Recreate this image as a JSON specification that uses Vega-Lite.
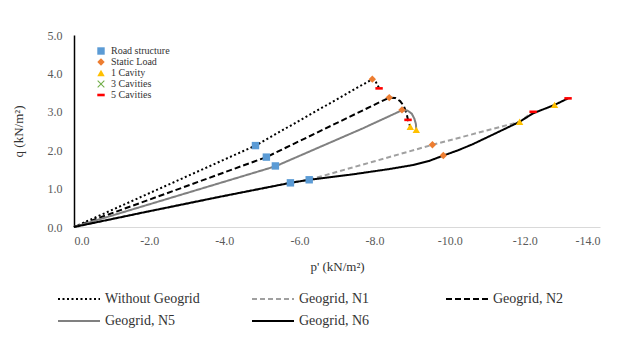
{
  "$schema": "https://vega.github.io/schema/vega-lite/v6.json",
  "width": 526,
  "height": 192,
  "autosize": {"type": "none"},
  "padding": {"left": 74, "top": 35, "right": 20, "bottom": 110},
  "background": "white",
  "config": {"view": {"stroke": null}, "font": "Times New Roman, Liberation Serif, DejaVu Serif, serif"},
  "datasets": {
    "lines": [
      {"series": "Without Geogrid", "i": 0, "p": 0, "q": 0},
      {"series": "Without Geogrid", "i": 1, "p": -4.83, "q": 2.12},
      {"series": "Without Geogrid", "i": 2, "p": -7.94, "q": 3.85},
      {"series": "Without Geogrid", "i": 3, "p": -8.03, "q": 3.78},
      {"series": "Without Geogrid", "i": 4, "p": -8.08, "q": 3.7},
      {"series": "Without Geogrid", "i": 5, "p": -8.12, "q": 3.61},
      {"series": "Geogrid, N1", "i": 0, "p": 0, "q": 0},
      {"series": "Geogrid, N1", "i": 1, "p": -2, "q": 0.41},
      {"series": "Geogrid, N1", "i": 2, "p": -4, "q": 0.81},
      {"series": "Geogrid, N1", "i": 3, "p": -5.76, "q": 1.15},
      {"series": "Geogrid, N1", "i": 4, "p": -6.26, "q": 1.23},
      {"series": "Geogrid, N1", "i": 5, "p": -9.54, "q": 2.14},
      {"series": "Geogrid, N1", "i": 6, "p": -11.86, "q": 2.74},
      {"series": "Geogrid, N1", "i": 7, "p": -12.22, "q": 3.0},
      {"series": "Geogrid, N2", "i": 0, "p": 0, "q": 0},
      {"series": "Geogrid, N2", "i": 1, "p": -5.12, "q": 1.82},
      {"series": "Geogrid, N2", "i": 2, "p": -8.39, "q": 3.37},
      {"series": "Geogrid, N2", "i": 3, "p": -8.55, "q": 3.36},
      {"series": "Geogrid, N2", "i": 4, "p": -8.68, "q": 3.28},
      {"series": "Geogrid, N2", "i": 5, "p": -8.78, "q": 3.15},
      {"series": "Geogrid, N2", "i": 6, "p": -8.85, "q": 2.96},
      {"series": "Geogrid, N2", "i": 7, "p": -8.89, "q": 2.79},
      {"series": "Geogrid, N2", "i": 8, "p": -8.95, "q": 2.61},
      {"series": "Geogrid, N5", "i": 0, "p": 0, "q": 0},
      {"series": "Geogrid, N5", "i": 1, "p": -5.36, "q": 1.58},
      {"series": "Geogrid, N5", "i": 2, "p": -7.69, "q": 2.57},
      {"series": "Geogrid, N5", "i": 3, "p": -8.73, "q": 3.04},
      {"series": "Geogrid, N5", "i": 4, "p": -8.88, "q": 3.03},
      {"series": "Geogrid, N5", "i": 5, "p": -8.99, "q": 2.95},
      {"series": "Geogrid, N5", "i": 6, "p": -9.06, "q": 2.82},
      {"series": "Geogrid, N5", "i": 7, "p": -9.1, "q": 2.68},
      {"series": "Geogrid, N5", "i": 8, "p": -9.11, "q": 2.53},
      {"series": "Geogrid, N6", "i": 0, "p": 0, "q": 0},
      {"series": "Geogrid, N6", "i": 1, "p": -2, "q": 0.41},
      {"series": "Geogrid, N6", "i": 2, "p": -4, "q": 0.81},
      {"series": "Geogrid, N6", "i": 3, "p": -5.76, "q": 1.15},
      {"series": "Geogrid, N6", "i": 4, "p": -6.26, "q": 1.23},
      {"series": "Geogrid, N6", "i": 5, "p": -7.34, "q": 1.36},
      {"series": "Geogrid, N6", "i": 6, "p": -8.4, "q": 1.51},
      {"series": "Geogrid, N6", "i": 7, "p": -9.0, "q": 1.61},
      {"series": "Geogrid, N6", "i": 8, "p": -9.45, "q": 1.72},
      {"series": "Geogrid, N6", "i": 9, "p": -9.83, "q": 1.86},
      {"series": "Geogrid, N6", "i": 10, "p": -10.2, "q": 1.99},
      {"series": "Geogrid, N6", "i": 11, "p": -10.6, "q": 2.15},
      {"series": "Geogrid, N6", "i": 12, "p": -11.2, "q": 2.43},
      {"series": "Geogrid, N6", "i": 13, "p": -11.86, "q": 2.74},
      {"series": "Geogrid, N6", "i": 14, "p": -12.22, "q": 2.96},
      {"series": "Geogrid, N6", "i": 15, "p": -12.79, "q": 3.18},
      {"series": "Geogrid, N6", "i": 16, "p": -13.15, "q": 3.35}
    ],
    "markers": [
      {"type": "Road structure", "p": -4.83, "q": 2.12},
      {"type": "Road structure", "p": -5.12, "q": 1.82},
      {"type": "Road structure", "p": -5.36, "q": 1.59},
      {"type": "Road structure", "p": -5.76, "q": 1.15},
      {"type": "Road structure", "p": -6.26, "q": 1.23},
      {"type": "Static Load", "p": -7.94, "q": 3.85},
      {"type": "Static Load", "p": -8.39, "q": 3.37},
      {"type": "Static Load", "p": -8.73, "q": 3.05},
      {"type": "Static Load", "p": -9.54, "q": 2.14},
      {"type": "Static Load", "p": -9.83, "q": 1.86},
      {"type": "1 Cavity", "p": -8.95, "q": 2.61},
      {"type": "1 Cavity", "p": -9.11, "q": 2.53},
      {"type": "1 Cavity", "p": -11.86, "q": 2.74},
      {"type": "1 Cavity", "p": -12.79, "q": 3.18},
      {"type": "5 Cavities", "p": -8.12, "q": 3.61},
      {"type": "5 Cavities", "p": -8.89, "q": 2.79},
      {"type": "5 Cavities", "p": -12.22, "q": 3.0},
      {"type": "5 Cavities", "p": -13.15, "q": 3.35}
    ]
  },
  "encoding": {
    "x": {
      "field": "p", "type": "quantitative",
      "scale": {"domain": [-14, 0], "reverse": true, "nice": false},
      "axis": {
        "title": "p' (kN/m²)",
        "titleFontSize": 13, "titleFontWeight": "normal", "titleColor": "#333333",
        "values": [0, -2, -4, -6, -8, -10, -12, -14],
        "labelExpr": "replace(format(datum.value, '.1f'), '−', '-')",
        "labelFontSize": 12, "labelColor": "#595959", "labelOverlap": false,
        "labelPadding": 8, "titlePadding": 14,
        "ticks": false, "grid": false,
        "domainColor": "#D9D9D9", "domainWidth": 1
      }
    },
    "y": {
      "field": "q", "type": "quantitative",
      "scale": {"domain": [0, 5], "nice": false},
      "axis": {
        "title": "q (kN/m²)",
        "titleFontSize": 13, "titleFontWeight": "normal", "titleColor": "#333333",
        "values": [0, 1, 2, 3, 4, 5], "tickCount": 6,
        "labelExpr": "format(datum.value, '.1f')",
        "labelFontSize": 12, "labelColor": "#595959", "labelOverlap": false,
        "labelPadding": 12, "titlePadding": 22,
        "ticks": false, "grid": false,
        "domainColor": "#000000", "domainWidth": 1.5
      }
    }
  },
  "layer": [
    {
      "data": {"name": "lines"},
      "mark": {"type": "line", "strokeWidth": 2},
      "encoding": {
        "order": {"field": "i", "type": "quantitative"},
        "stroke": {
          "field": "series", "type": "nominal",
          "scale": {
            "domain": ["Without Geogrid", "Geogrid, N1", "Geogrid, N2", "Geogrid, N5", "Geogrid, N6"],
            "range": ["#000000", "#A0A0A0", "#000000", "#808080", "#000000"]
          },
          "legend": {
            "title": null, "orient": "none", "legendX": -3, "legendY": 256,
            "direction": "horizontal", "columns": 3, "gridAlign": "all", "columnPadding": 48, "rowPadding": 7,
            "symbolType": "M-3,0H3", "symbolSize": 196, "symbolStrokeWidth": 2,
            "labelFontSize": 14, "labelColor": "#333333", "labelOffset": 18
          }
        },
        "strokeDash": {
          "field": "series", "type": "nominal",
          "scale": {
            "domain": ["Without Geogrid", "Geogrid, N1", "Geogrid, N2", "Geogrid, N5", "Geogrid, N6"],
            "range": [[2, 2.5], [5, 3], [6, 3], [1, 0], [1, 0]]
          }
        }
      }
    },
    {
      "data": {"name": "markers"},
      "mark": {"type": "point", "filled": true, "opacity": 1, "size": 55, "strokeWidth": 0},
      "encoding": {
        "shape": {
          "field": "type", "type": "nominal",
          "scale": {
            "domain": ["Road structure", "Static Load", "1 Cavity", "3 Cavities", "5 Cavities"],
            "range": ["square", "diamond", "triangle-up", "M-1,-0.8L-0.8,-1L0,-0.2L0.8,-1L1,-0.8L0.2,0L1,0.8L0.8,1L0,0.2L-0.8,1L-1,0.8L-0.2,0Z", "M-1,-0.35H1V0.35H-1Z"]
          },
          "legend": {
            "title": null, "orient": "none", "legendX": 22, "legendY": 11,
            "labelFontSize": 10, "labelColor": "#333333",
            "symbolSize": 55, "rowPadding": 1, "symbolStrokeWidth": 0, "labelOffset": 5
          }
        },
        "fill": {
          "field": "type", "type": "nominal",
          "scale": {
            "domain": ["Road structure", "Static Load", "1 Cavity", "3 Cavities", "5 Cavities"],
            "range": ["#5B9BD5", "#ED7D31", "#FFC000", "#70AD47", "#FF0000"]
          }
        }
      }
    }
  ]
}
